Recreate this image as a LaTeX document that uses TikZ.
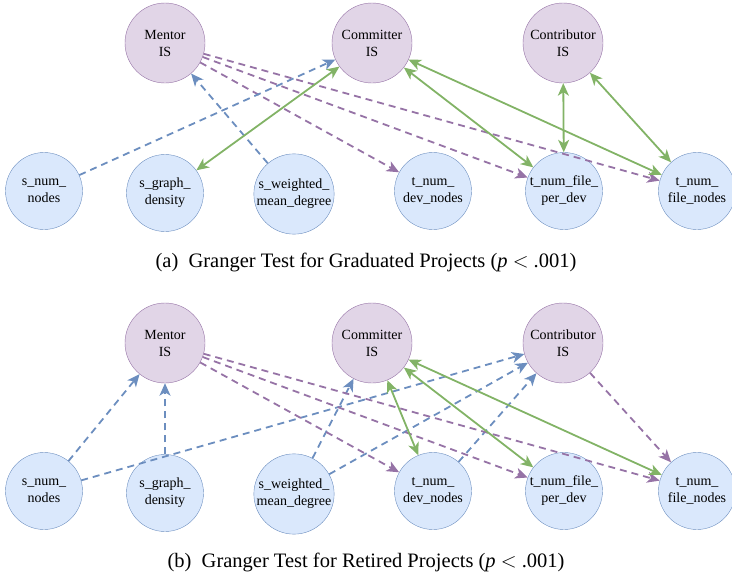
\documentclass[tikz,border=0pt]{standalone}
\usepackage{fontspec}
\setmainfont{Liberation Serif}
\usetikzlibrary{arrows.meta}
\usetikzlibrary{positioning}
\definecolor{isfill}{HTML}{E1D5E7}
\definecolor{isdraw}{HTML}{9673A6}
\definecolor{mfill}{HTML}{DAE8FC}
\definecolor{mdraw}{HTML}{6C8EBF}
\definecolor{mutualgreen}{HTML}{82B366}
\tikzset{>={Stealth[length=12.5pt,width=11pt,inset=3.5pt]}}

\begin{document}
\begin{tikzpicture}[x=1pt,y=-1pt,
    isnode/.style={circle, draw=isdraw, fill=isfill, minimum size=80pt, inner sep=0pt,
      align=center, font=\fontsize{14}{17}\selectfont},
    metric/.style={circle, draw=mdraw, fill=mfill, minimum size=77pt, inner sep=0pt,
      align=center, font=\fontsize{14}{17}\selectfont},
    tomentor/.style={->, draw=mdraw, line width=1.8pt, dash pattern=on 7pt off 5pt},
    fromis/.style={->, draw=isdraw, line width=1.8pt, dash pattern=on 7pt off 5pt},
    mutual/.style={<->, draw=mutualgreen, line width=1.8pt},
    caption/.style={font=\fontsize{20.5}{24}\selectfont}]
    \useasboundingbox (0,0) rectangle (732,581);

    % (a) graduated projects
    \node[isnode] (mentorA) at (165,43) {Mentor\\IS};
    \node[isnode] (committerA) at (372,43) {Committer\\IS};
    \node[isnode] (contribA) at (563,43) {Contributor\\IS};
    \node[metric] (snumA) at (44,191) {s\_num\_\\nodes};
    \node[metric] (sdensA) at (165,193) {s\_graph\_\\density};
    \node[metric] (sweightA) at (294,194) {s\_weighted\_\\mean\_degree};
    \node[metric] (tdevA) at (433,191) {t\_num\_\\dev\_nodes};
    \node[metric] (tperA) at (564,191) {t\_num\_file\_\\per\_dev};
    \node[metric] (tfileA) at (697,191) {t\_num\_\\file\_nodes};

    \draw[fromis] (mentorA) -- (tdevA);
    \draw[fromis] (mentorA) -- (tperA);
    \draw[fromis] (mentorA) -- (tfileA);
    \draw[tomentor] (snumA) -- (committerA);
    \draw[tomentor] (sweightA) -- (mentorA);
    \draw[mutual] (committerA) -- (sdensA);
    \draw[mutual] (committerA) -- (tperA);
    \draw[mutual] (committerA) -- (tfileA);
    \draw[mutual] (contribA) -- (tperA);
    \draw[mutual] (contribA) -- (tfileA);

    \node[caption] (capA) at (366,262) {(a)~~Granger Test for Graduated Projects (\textit{p} $<$ .001)};

    % (b) retired projects
    \node[isnode] (mentorB) at (165,343) {Mentor\\IS};
    \node[isnode] (committerB) at (372,343) {Committer\\IS};
    \node[isnode] (contribB) at (563,343) {Contributor\\IS};
    \node[metric] (snumB) at (44,491) {s\_num\_\\nodes};
    \node[metric] (sdensB) at (165,493) {s\_graph\_\\density};
    \node[metric] (sweightB) at (294,494) {s\_weighted\_\\mean\_degree};
    \node[metric] (tdevB) at (433,491) {t\_num\_\\dev\_nodes};
    \node[metric] (tperB) at (564,491) {t\_num\_file\_\\per\_dev};
    \node[metric] (tfileB) at (697,491) {t\_num\_\\file\_nodes};

    \draw[tomentor] (snumB) -- (mentorB);
    \draw[tomentor] (snumB) -- (contribB);
    \draw[tomentor] (sdensB) -- (mentorB);
    \draw[tomentor] (sweightB) -- (committerB);
    \draw[tomentor] (sweightB) -- (contribB);
    \draw[tomentor] (tdevB) -- (contribB);
    \draw[fromis] (mentorB) -- (tdevB);
    \draw[fromis] (mentorB) -- (tperB);
    \draw[fromis] (mentorB) -- (tfileB);
    \draw[fromis] (contribB) -- (tfileB);
    \draw[mutual] (committerB) -- (tdevB);
    \draw[mutual] (committerB) -- (tperB);
    \draw[mutual] (committerB) -- (tfileB);

    \node[caption] (capB) at (366,562) {(b)~~Granger Test for Retired Projects (\textit{p} $<$ .001)};
\end{tikzpicture}
\end{document}
